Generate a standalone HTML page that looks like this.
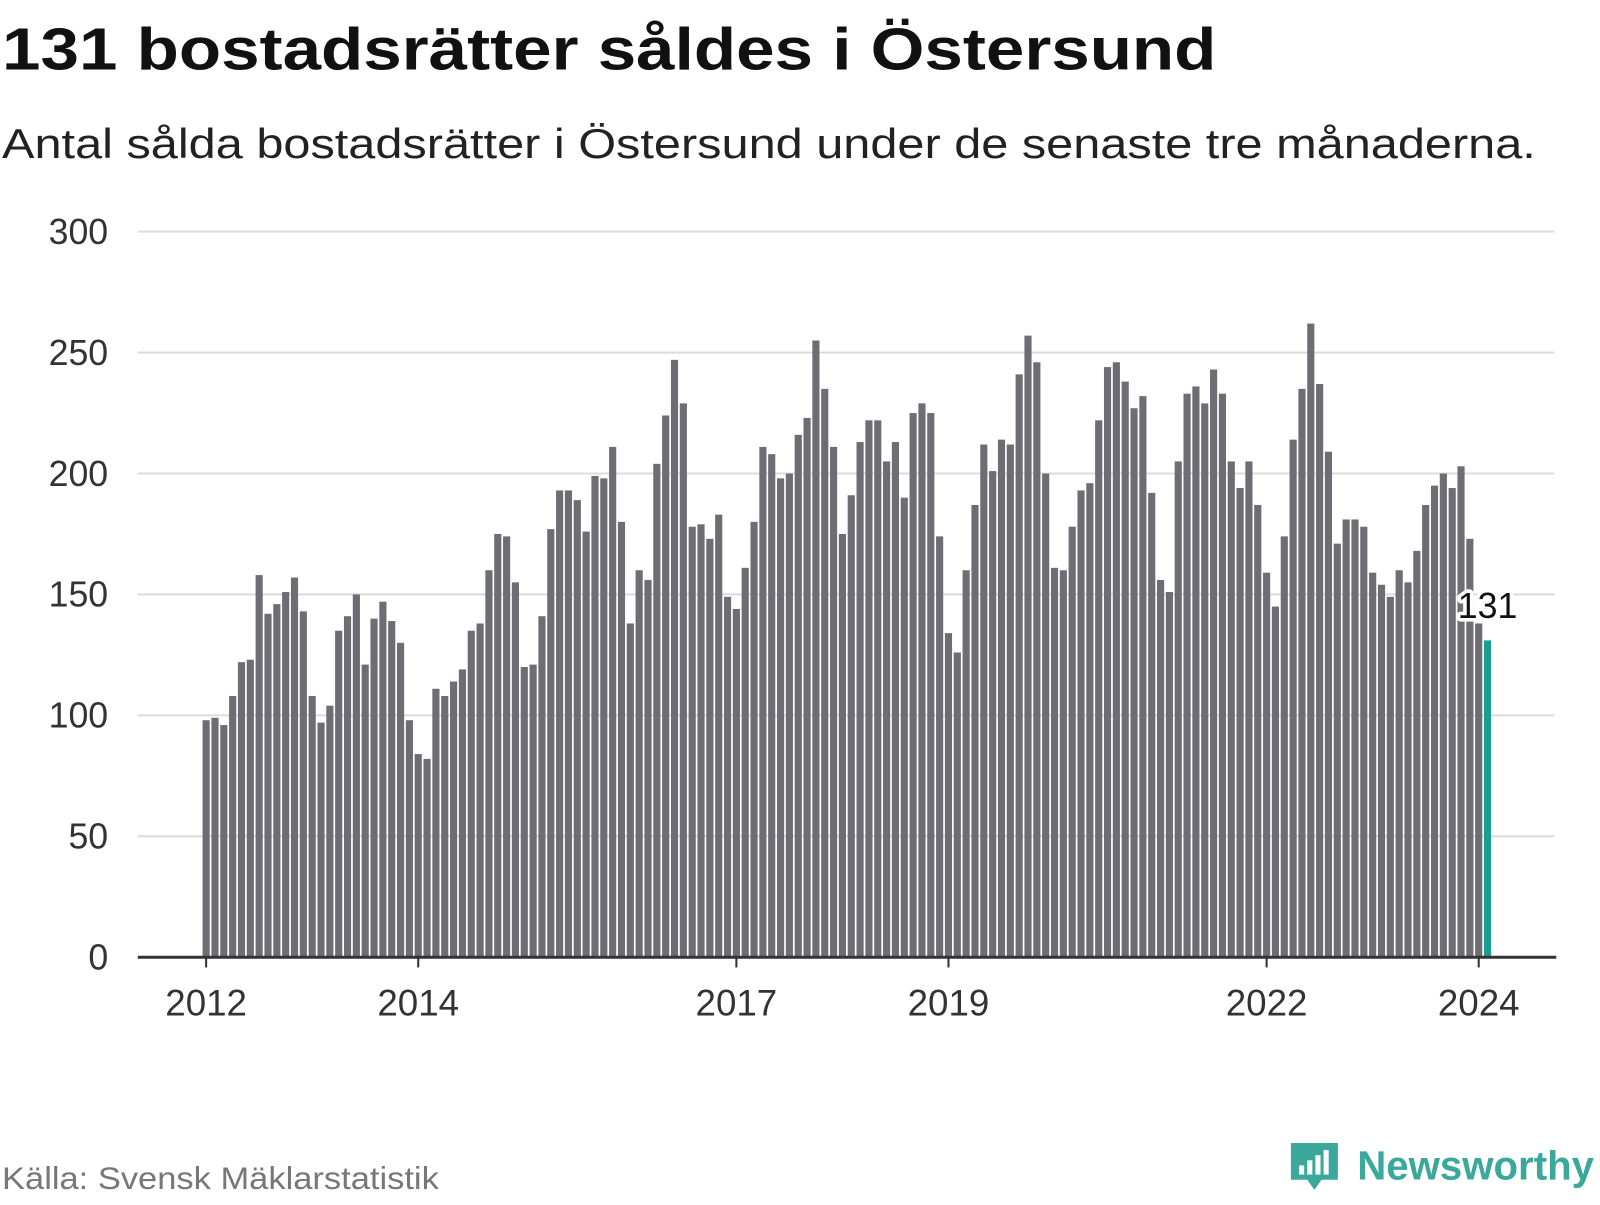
<!DOCTYPE html>
<html><head><meta charset="utf-8"><style>
body{margin:0;width:1600px;height:1200px;background:#fff;font-family:"Liberation Sans","DejaVu Sans",sans-serif;overflow:hidden}
</style></head><body>
<svg width="1600" height="1200">
<g transform="scale(1.0205)">
<text x="2" y="68" font-size="58" font-weight="bold" fill="#111" textLength="1190" lengthAdjust="spacingAndGlyphs">131 bostadsrätter såldes i Östersund</text>
<text x="2" y="155" font-size="41" fill="#222" textLength="1503" lengthAdjust="spacingAndGlyphs">Antal sålda bostadsrätter i Östersund under de senaste tre månaderna.</text>
<g id="grid"></g><g id="bars"></g><g id="xaxis"></g>
<text x="2" y="1165" font-size="31" fill="#777" textLength="428" lengthAdjust="spacingAndGlyphs">Källa: Svensk Mäklarstatistik</text>
<g>
<path d="M1265 1120 h46 v36 h-16 l-7 10 l-7 -10 h-16 z" fill="#3aa89a"/>
<rect x="1273" y="1142" width="5" height="9" fill="#fff"/><rect x="1281" y="1137" width="5" height="14" fill="#fff"/><rect x="1289" y="1132" width="5" height="19" fill="#fff"/><rect x="1297" y="1127" width="5" height="24" fill="#fff"/>
<text x="1330" y="1156" font-size="40" font-weight="bold" fill="#3aa89a" textLength="232" lengthAdjust="spacingAndGlyphs">Newsworthy</text>
</g>
</g>
</svg>
<script>
const yTicks=[0,50,100,150,200,250,300];
const xTickYears=[2012,2014,2017,2019,2022,2024];
const values=[98,99,96,108,122,123,158,142,146,151,157,143,
108,97,104,135,141,150,121,140,147,139,130,98,
84,82,111,108,114,119,135,138,160,175,174,155,
120,121,141,177,193,193,189,176,199,198,211,180,
138,160,156,204,224,247,229,178,179,173,183,149,
144,161,180,211,208,198,200,216,223,255,235,211,
175,191,213,222,222,205,213,190,225,229,225,174,
134,126,160,187,212,201,214,212,241,257,246,200,
161,160,178,193,196,222,244,246,238,227,232,192,
156,151,205,233,236,229,243,233,205,194,205,187,
159,145,174,214,235,262,237,209,171,181,181,178,
159,154,149,160,155,168,187,195,200,194,203,173,
138,131];
const startYear=2012;
const NS='http://www.w3.org/2000/svg';
const y=v=>938-v*(938-227)/300;
const x=m=>202+m*(1449-202)/144;
function mk(t,a,p){const e=document.createElementNS(NS,t);for(const k in a)e.setAttribute(k,a[k]);p.appendChild(e);return e;}
const grid=document.getElementById('grid'),bars=document.getElementById('bars'),xa=document.getElementById('xaxis');
yTicks.forEach(v=>{
 if(v>0){const l=mk('line',{x1:135,x2:1523,y1:y(v),y2:y(v),stroke:'#dcdcdc','stroke-width':2},grid);
 
 }
 const t=mk('text',{x:106,y:y(v)+12,'text-anchor':'end','font-size':35,fill:'#333'},grid);t.textContent=v;
 
 
});
values.forEach((v,i)=>{
 const last=i===values.length-1;
 const r=mk('rect',{x:x(i)-3.5,y:y(v),width:7,height:938-y(v),fill:last?'#1a9e8f':'#6e6d74'},bars);
 
 
});
const li=values.length-1;
const lb=mk('text',{x:x(li),y:y(values[li])-22,'text-anchor':'middle','font-size':35,fill:'#111',stroke:'#fff','stroke-width':7,'paint-order':'stroke','stroke-linejoin':'round'},bars);
lb.textContent=values[li];


const ax=mk('line',{x1:135,x2:1525,y1:938,y2:938,stroke:'#333','stroke-width':3},xa);


xTickYears.forEach(yr=>{
 const px=x((yr-startYear)*12);
 const tl=mk('line',{x1:px,x2:px,y1:938,y2:948,stroke:'#333','stroke-width':2},xa);
 
 
 const t=mk('text',{x:px,y:995,'text-anchor':'middle','font-size':36,fill:'#333'},xa);t.textContent=yr;
 
 
});
</script>
</body></html>
